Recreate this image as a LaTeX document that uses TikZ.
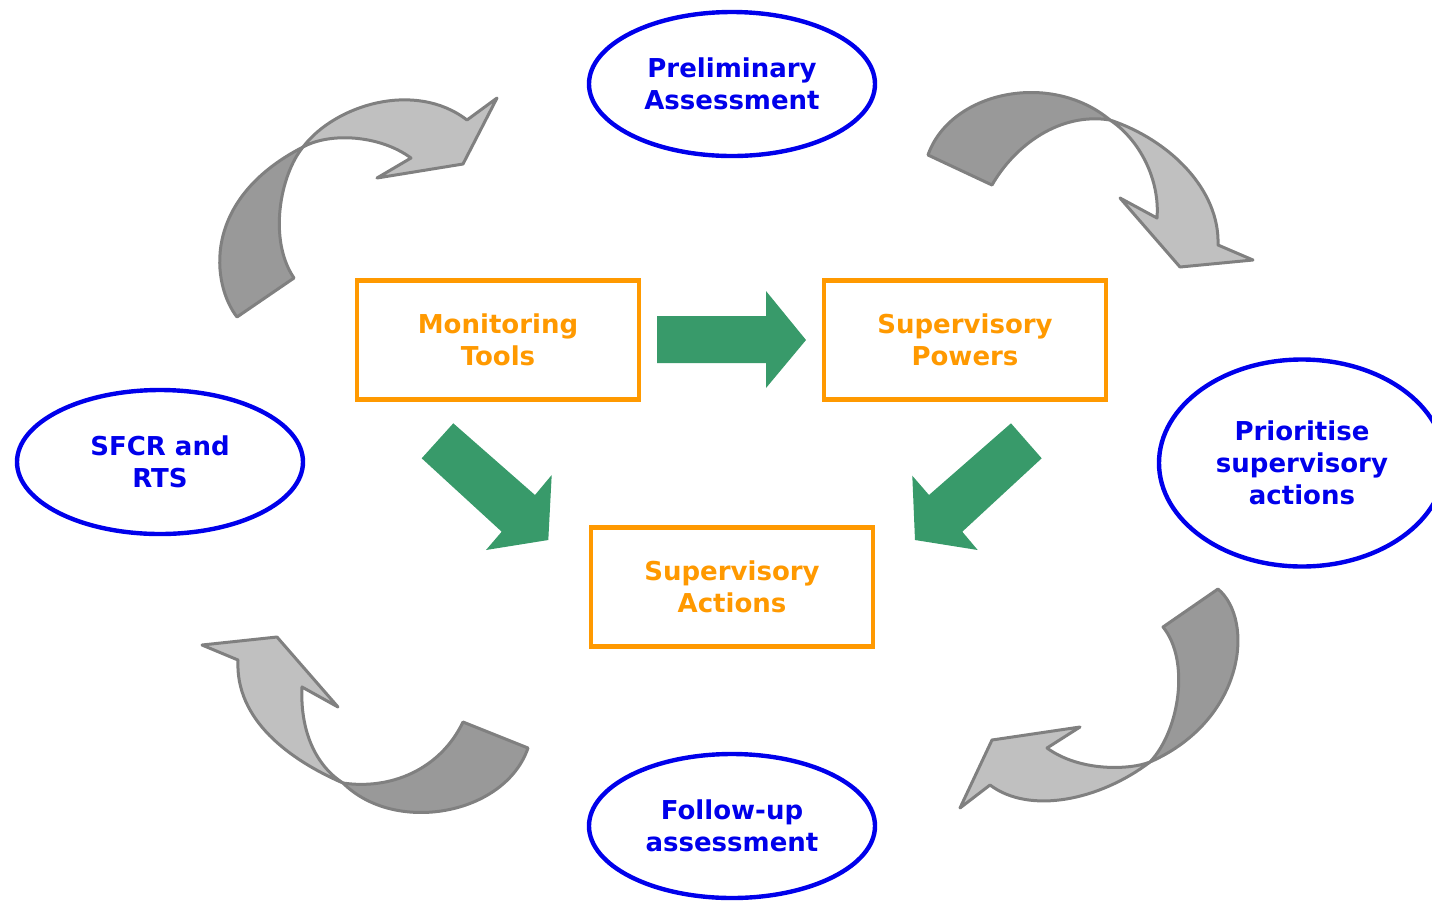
\documentclass[tikz,border=0pt]{standalone}
\usepackage{fontspec}
\setmainfont{DejaVu Sans}
\usetikzlibrary{shapes.geometric}
\definecolor{ellblue}{RGB}{0,0,235}
\definecolor{boxorange}{RGB}{255,153,0}
\definecolor{arrgreen}{RGB}{56,154,106}
\definecolor{darkgray}{RGB}{153,153,153}
\definecolor{lightgray}{RGB}{192,192,192}
\definecolor{edgegray}{RGB}{128,128,128}
\tikzset{
  stagebox/.style={ellipse, draw=ellblue, line width=2.2pt, text=ellblue, align=center,
    font=\fontsize{13}{16}\selectfont\bfseries, inner sep=0pt},
  toolbox/.style={rectangle, draw=boxorange, line width=2.2pt, text=boxorange, align=center,
    font=\fontsize{13}{16}\selectfont\bfseries, minimum width=141pt, minimum height=59.5pt, inner sep=0pt},
  greenarrow/.style={fill=arrgreen},
  darkpart/.style={fill=darkgray, draw=edgegray, line width=1.5pt, line join=round},
  lightpart/.style={fill=lightgray, draw=edgegray, line width=1.5pt, line join=round}
}
\begin{document}
\begin{tikzpicture}[x=0.5pt, y=-0.5pt]
\useasboundingbox (0,0) rectangle (1432,902);
\clip (0,0) rectangle (1432,902);

% stage ellipses
\node[stagebox, minimum width=143pt, minimum height=72pt] (pre) at (732,84) {Preliminary\\Assessment};
\node[stagebox, minimum width=143pt, minimum height=72pt] (sfcr) at (160,462) {SFCR and\\RTS};
\node[stagebox, minimum width=143pt, minimum height=103.5pt] (prio) at (1302,463) {Prioritise\\supervisory\\actions};
\node[stagebox, minimum width=143pt, minimum height=72pt] (fol) at (732,826) {Follow-up\\assessment};

% orange boxes
\node[toolbox] (mon) at (498,340) {Monitoring\\Tools};
\node[toolbox] (pow) at (965,340) {Supervisory\\Powers};
\node[toolbox] (act) at (732,587) {Supervisory\\Actions};

% green arrows
\fill[greenarrow] (657,316) -- (766,316) -- (766,291) -- (806,340) -- (766,388) -- (766,363) -- (657,363) -- cycle;
\fill[greenarrow] (453.3,423.3) -- (535,495) -- (551.7,475) -- (548.3,540) -- (486,550) -- (501.7,531.7) -- (421.7,458.3) -- cycle;
\fill[greenarrow] (1011,423.3) -- (1041.7,458.3) -- (962.3,531.7) -- (977.7,550) -- (915,540) -- (912.3,475.7) -- (929,495) -- cycle;

% curved arrow 1 (top-left)
\draw[darkpart] (237,317) .. controls (212,285) and (200,200) .. (303,147)
  .. controls (280,175) and (268,240) .. (294,278) -- cycle;
\draw[lightpart] (303,147) .. controls (335,105) and (415,80) .. (467,120)
  -- (497,98) -- (463,164) -- (377,178) -- (411,158)
  .. controls (380,135) and (330,132) .. (303,147) -- cycle;

% curved arrow 2 (top-right)
\draw[darkpart] (928,155) .. controls (950,92) and (1050,70) .. (1110,120)
  .. controls (1060,112) and (1015,145) .. (992,185) -- cycle;
\draw[lightpart] (1110,120) .. controls (1170,140) and (1220,190) .. (1218,245)
  -- (1253,260) -- (1180,267) -- (1120,198) -- (1157,218)
  .. controls (1160,180) and (1140,140) .. (1110,120) -- cycle;

% curved arrow 3 (bottom-right)
\draw[darkpart] (1163,627) -- (1218,589) .. controls (1255,620) and (1245,720) .. (1150,762)
  .. controls (1180,730) and (1190,660) .. (1163,627) -- cycle;
\draw[lightpart] (1150,762) .. controls (1100,800) and (1030,815) .. (990,785)
  -- (960,808) -- (992,740) -- (1080,727) -- (1047,748)
  .. controls (1080,772) and (1130,770) .. (1150,762) -- cycle;

% curved arrow 4 (bottom-left)
\draw[darkpart] (463,722) -- (528,748) .. controls (505,815) and (395,835) .. (343,783)
  .. controls (390,790) and (440,770) .. (463,722) -- cycle;
\draw[lightpart] (343,783) .. controls (290,760) and (235,720) .. (238,660)
  -- (202,645) -- (277,637) -- (338,707) -- (302,687)
  .. controls (300,730) and (315,765) .. (343,783) -- cycle;
\end{tikzpicture}
\end{document}
